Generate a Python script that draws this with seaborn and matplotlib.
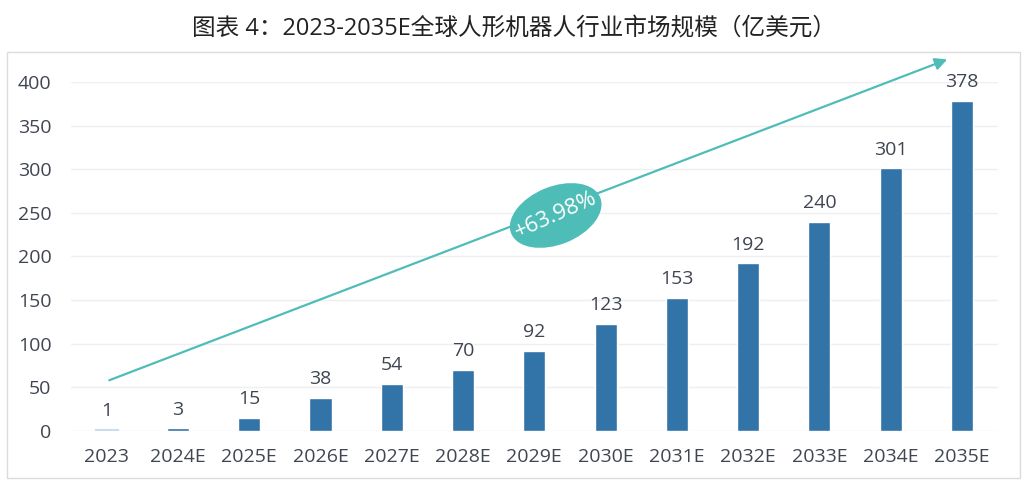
import matplotlib
matplotlib.use("Agg")
import matplotlib.pyplot as plt
import seaborn as sns
from matplotlib.patches import Rectangle, Ellipse
from matplotlib.transforms import ScaledTranslation

anios = ['2023', '2024E', '2025E', '2026E', '2027E', '2028E', '2029E',
         '2030E', '2031E', '2032E', '2033E', '2034E', '2035E']
mercado = [1, 3, 15, 38, 54, 70, 92, 123, 153, 192, 240, 301, 378]
cagr = '+63.98%'
titulo = '图表 4：2023-2035E全球人形机器人行业市场规模（亿美元）'

sns.set_theme(style='white')
plt.rcParams['font.family'] = ['Open Sans', 'Noto Sans CJK SC', 'DejaVu Sans']

azul = '#3273a8'
azul_claro = '#c9ddee'
texto = '#404552'
verde = '#4fbdb7'

colores = [azul_claro] + [azul] * (len(anios) - 1)

fig = plt.figure(figsize=(10.29, 4.88), dpi=100)
ax = fig.add_axes([0.069, 0.1168, 0.9005, 0.7152])

sns.barplot(x=anios, y=mercado, hue=anios, palette=colores, legend=False,
            width=0.31, ax=ax, saturation=1)
# la barra de 2023 casi no se ve, se le da un borde fino
ax.patches[0].set_edgecolor(azul_claro)
ax.patches[0].set_linewidth(1.5)

for cont in ax.containers:
    ax.bar_label(cont, padding=7, fontsize=14, color=texto)

ax.set_xlim(-0.5, len(anios) - 0.5)
ax.set_ylim(0, 400)
ax.set_yticks(range(0, 401, 50))
ax.yaxis.grid(True, color='#efefef', linewidth=1)
ax.set_axisbelow(True)
for s in ax.spines.values():
    s.set_visible(False)
ax.tick_params(axis='both', length=0, labelsize=14, labelcolor=texto)
ax.tick_params(axis='y', pad=14)
ax.tick_params(axis='x', pad=12)
ax.set_xlabel('')
ax.set_ylabel('')

# flecha de crecimiento
ax.annotate('', xy=(11.83, 427), xytext=(0, 57),
            arrowprops=dict(arrowstyle='-|>', color=verde, lw=1.6,
                            mutation_scale=18),
            annotation_clip=False)
# elipse en pulgadas, centrada en un punto de datos
cx, cy = 6.3, 247
trans = fig.dpi_scale_trans + ScaledTranslation(cx, cy, ax.transData)
ax.add_patch(Ellipse((0, 0), width=0.96, height=0.58, angle=22,
                     transform=trans, facecolor=verde, edgecolor='none', zorder=5))
ax.text(cx, cy, cagr, color='white', fontsize=16, rotation=24,
        ha='center', va='center', zorder=6)

fig.patches.append(Rectangle((7 / 1029, 1 - 478 / 488), 1013 / 1029, 426 / 488,
                             transform=fig.transFigure, fill=False,
                             edgecolor='#dcdcdc', linewidth=1))
fig.text(0.5, 1 - 29 / 488, titulo, ha='center', va='center',
         fontsize=17, color='#222222')

fig.savefig('out.png', dpi=100)
